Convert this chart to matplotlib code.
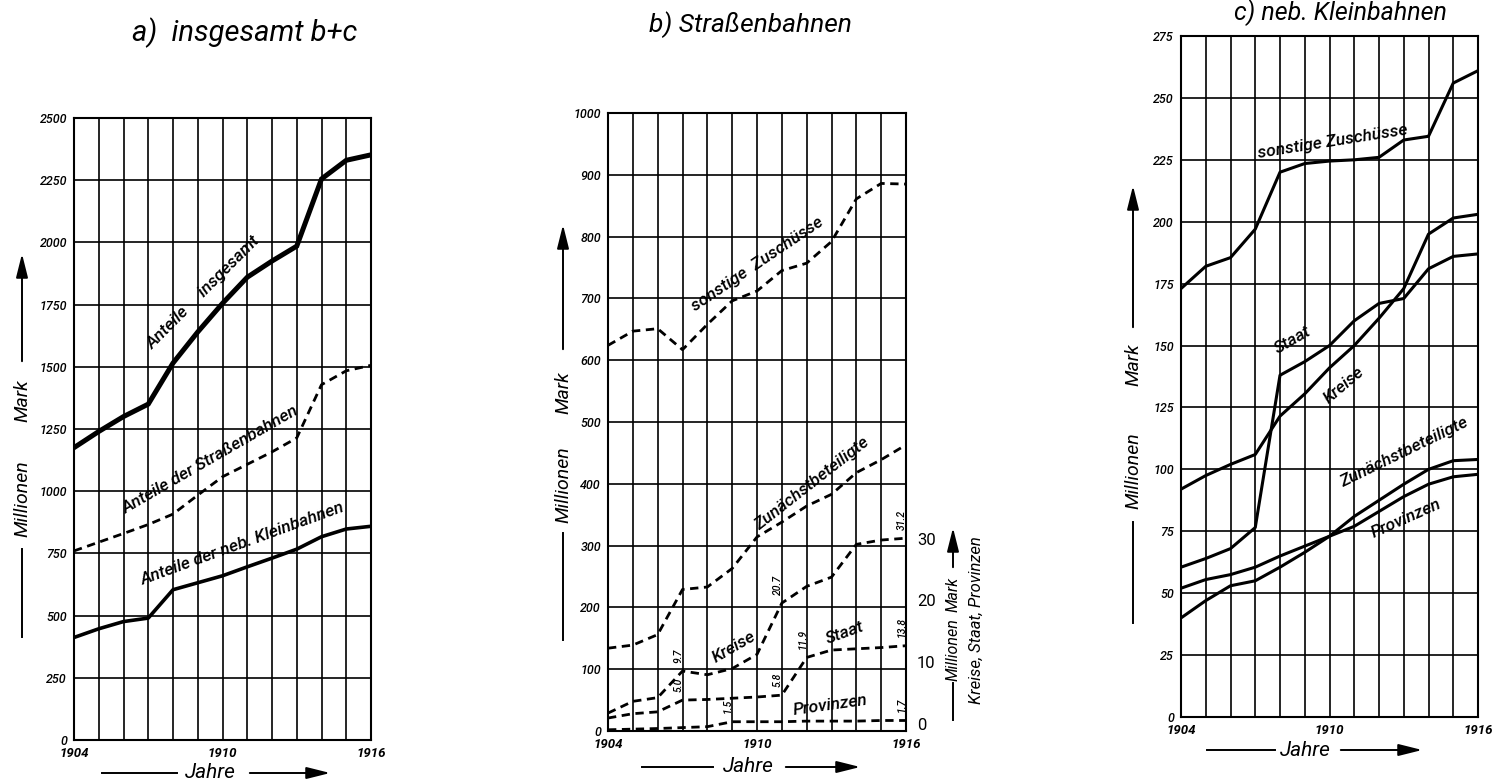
import matplotlib
matplotlib.use("Agg")
import matplotlib.pyplot as plt
import matplotlib.transforms as mtransforms
from matplotlib.lines import Line2D
from matplotlib.patches import FancyArrowPatch

W, H = 1494, 783
FONT = ["Roboto", "DejaVu Sans"]
plt.rcParams["font.family"] = FONT
plt.rcParams["font.weight"] = "medium"

YEARS = list(range(1904, 1917))
XTICK_LABELS = ["1904", "", "", "", "", "", "1910", "", "", "", "", "", "1916"]

# a) insgesamt b+c
A_INSGESAMT = [1175, 1240, 1300, 1350, 1515, 1640, 1755, 1860, 1925, 1985, 2255, 2330, 2352]
A_STRASSENBAHNEN = [760, 795, 830, 866, 908, 984, 1058, 1108, 1158, 1214, 1428, 1484, 1506]
A_KLEINBAHNEN = [412, 447, 476, 490, 604, 632, 660, 696, 731, 767, 817, 848, 859]
A_YTICKS = [0, 250, 500, 750, 1000, 1250, 1500, 1750, 2000, 2250, 2500]

# b) Strassenbahnen, left scale
B_SONSTIGE = [624, 647, 651, 617, 658, 696, 712, 745, 757, 792, 861, 886, 885]
B_ZUNAECHST = [134, 139, 156, 229, 233, 263, 314, 338, 364, 383, 418, 439, 463]
B_YTICKS = [0, 100, 200, 300, 400, 500, 600, 700, 800, 900, 1000]
# b) right scale (Kreise, Staat, Provinzen)
B_KREISE = [2.9, 4.8, 5.4, 9.7, 9.1, 10.1, 12.4, 20.7, 23.4, 24.9, 30.2, 30.9, 31.2]
B_STAAT = [2.1, 2.8, 3.1, 5.0, 5.1, 5.3, 5.5, 5.8, 11.9, 13.1, 13.3, 13.5, 13.8]
B_PROVINZEN = [0.2, 0.3, 0.4, 0.55, 0.7, 1.5, 1.5, 1.5, 1.6, 1.6, 1.6, 1.7, 1.7]
B_RTICKS = [0, 10, 20, 30]
# printed values: (series, year)
B_VALUE_NOTES = [("Kreise", 1907), ("Staat", 1907), ("Kreise", 1911), ("Staat", 1911),
                 ("Staat", 1912), ("Provinzen", 1909), ("Kreise", 1916),
                 ("Staat", 1916), ("Provinzen", 1916)]

# c) neb. Kleinbahnen
C_SONSTIGE = [173, 182, 185.5, 197, 220, 223.5, 224.5, 225, 226, 233, 234.5, 256, 261]
C_STAAT = [60.5, 64, 68, 76.5, 138, 143.5, 150, 160, 167, 169, 181, 186, 187]
C_KREISE = [92, 97.5, 102, 106, 121.5, 130.5, 141, 150, 161, 173, 195, 201.5, 203]
C_ZUNAECHST = [40, 47, 53, 55, 60.5, 66.5, 73, 81, 87.5, 94, 100, 103.5, 104]
C_PROVINZEN = [52, 55.5, 57.5, 60.5, 65, 69, 73, 77, 83, 89, 94, 97, 98]
C_YTICKS = [0, 25, 50, 75, 100, 125, 150, 175, 200, 225, 250, 275]


def fxy(x, y):
    return x / W, 1 - y / H


def add_axes_px(fig, left, top, right, bottom):
    x0, y0 = fxy(left, bottom)
    x1, y1 = fxy(right, top)
    return fig.add_axes([x0, y0, x1 - x0, y1 - y0])


def style_grid(ax, yticks):
    ax.set_xlim(1904, 1916)
    ax.set_ylim(yticks[0], yticks[-1])
    ax.set_xticks(YEARS)
    ax.set_xticklabels(XTICK_LABELS, style="italic", fontweight="bold", fontsize=9.5)
    ax.set_yticks(yticks)
    ax.set_yticklabels([str(t) for t in yticks], style="italic", fontsize=9)
    ax.tick_params(length=0, pad=5)
    ax.grid(True, color="black", linewidth=1.2)
    for sp in ax.spines.values():
        sp.set_linewidth(1.5)
    ax.set_axisbelow(True)


def line(fig, p0, p1):
    fig.add_artist(Line2D([p0[0], p1[0]], [p0[1], p1[1]],
                          transform=fig.transFigure, color="black", lw=1.4))


def arrow(fig, p0, p1):
    fig.add_artist(FancyArrowPatch(p0, p1, transform=fig.transFigure,
                                   arrowstyle="-|>,head_length=0.8,head_width=0.2",
                                   mutation_scale=18, color="black", lw=1.4))


def jahre(fig, y, line_x, text_x, arrow_x):
    line(fig, fxy(line_x[0], y), fxy(line_x[1], y))
    fig.text(*fxy(text_x, y), "Jahre", ha="center", va="center",
             style="italic", fontsize=15, fontweight="normal")
    arrow(fig, fxy(arrow_x[0], y), fxy(arrow_x[1], y))


def millionen(fig, x, line_y, mill_y, mark_y, arrow_y, size=14):
    line(fig, fxy(x, line_y[0]), fxy(x, line_y[1]))
    fig.text(*fxy(x, mill_y), "Millionen", ha="center", va="center",
             rotation=90, style="italic", fontsize=size, fontweight="normal")
    fig.text(*fxy(x, mark_y), "Mark", ha="center", va="center",
             rotation=90, style="italic", fontsize=size, fontweight="normal")
    arrow(fig, fxy(x, arrow_y[0]), fxy(x, arrow_y[1]))


def label(ax, text, x, y, rot, size=12.5):
    ax.text(x, y, text, rotation=rot, rotation_mode="anchor", ha="center",
            va="center", style="italic", fontsize=size)


def title(fig, x, y, text, size):
    fig.text(*fxy(x, y), text, ha="center", va="center", style="italic",
             fontsize=size, fontweight="normal")


fig = plt.figure(figsize=(W / 100, H / 100), dpi=100)

# ---- a) insgesamt
ax_a = add_axes_px(fig, 74, 118, 371, 740)
style_grid(ax_a, A_YTICKS)
ax_a.plot(YEARS, A_INSGESAMT, color="black", lw=3.6, solid_joinstyle="miter")
ax_a.plot(YEARS, A_STRASSENBAHNEN, color="black", lw=2.0, dashes=(3, 2))
ax_a.plot(YEARS, A_KLEINBAHNEN, color="black", lw=2.6)
label(ax_a, "Anteile     insgesamt", 1909.25, 1800, 45)
label(ax_a, "Anteile der Straßenbahnen", 1909.5, 1125, 30)
label(ax_a, "Anteile der neb. Kleinbahnen", 1910.8, 790, 20)
title(fig, 245, 33, "a)  insgesamt b+c", 21)
millionen(fig, 22, (549, 637), 499, 401, (364, 251))
jahre(fig, 773, (102, 177), 210, (247, 333))

# ---- b) Strassenbahnen
ax_b = add_axes_px(fig, 608, 113, 906, 731)
style_grid(ax_b, B_YTICKS)
ax_b.plot(YEARS, B_SONSTIGE, color="black", lw=2.0, dashes=(3, 2))
ax_b.plot(YEARS, B_ZUNAECHST, color="black", lw=2.0, dashes=(3, 2))
ax_r = ax_b.twinx()
ax_r.set_ylim(0, 100)
ax_r.set_yticks(B_RTICKS)
ax_r.set_yticklabels([str(t) for t in B_RTICKS], fontsize=12, fontweight="normal")
ax_r.tick_params(length=0, pad=8)
lift = mtransforms.ScaledTranslation(0, 5 / 72, fig.dpi_scale_trans)
for t in ax_r.get_yticklabels():
    t.set_transform(t.get_transform() + lift)
for sp in ax_r.spines.values():
    sp.set_visible(False)
b_right = {"Kreise": B_KREISE, "Staat": B_STAAT, "Provinzen": B_PROVINZEN}
for name, vals in b_right.items():
    ax_r.plot(YEARS, vals, color="black", lw=2.0, dashes=(3, 2))
for name, year in B_VALUE_NOTES:
    v = b_right[name][YEARS.index(year)]
    ax_r.annotate(f"{v:.1f}", (year, v), xytext=(-3, 6), textcoords="offset points",
                  rotation=90, ha="center", va="bottom", fontsize=7.5, style="italic")
label(ax_b, "sonstige  Zuschüsse", 1910.0, 755, 34)
label(ax_b, "Zunächstbeteiligte", 1912.2, 400, 38)
label(ax_r, "Kreise", 1909.07, 13.6, 30)
label(ax_r, "Staat", 1913.54, 15.8, 20)
label(ax_r, "Provinzen", 1912.94, 4.2, 8)
title(fig, 750, 25, "b) Straßenbahnen", 19)
millionen(fig, 563, (533, 640), 485, 393, (352, 222))
millionen(fig, 953, (683, 720), 650, 594, (570, 525), size=11.5)
fig.text(*fxy(976, 620), "Kreise, Staat, Provinzen", ha="center", va="center",
         rotation=90, style="italic", fontsize=12, fontweight="normal")
jahre(fig, 767, (642, 713), 748, (783, 863))

# ---- c) neb. Kleinbahnen
ax_c = add_axes_px(fig, 1181, 36, 1478, 717)
style_grid(ax_c, C_YTICKS)
for vals in (C_SONSTIGE, C_STAAT, C_KREISE, C_ZUNAECHST, C_PROVINZEN):
    ax_c.plot(YEARS, vals, color="black", lw=2.2)
label(ax_c, "sonstige Zuschüsse", 1910.14, 232.5, 9)
label(ax_c, "Staat", 1908.5, 152, 30)
label(ax_c, "Kreise", 1910.6, 134, 40)
label(ax_c, "Zunächstbeteiligte", 1913.0, 107, 26)
label(ax_c, "Provinzen", 1913.1, 80, 24)
title(fig, 1340, 13, "c) neb. Kleinbahnen", 18)
millionen(fig, 1133, (522, 623), 471, 365, (330, 183))
jahre(fig, 750, (1207, 1275), 1305, (1338, 1425))

fig.savefig("out.png", dpi=100)
